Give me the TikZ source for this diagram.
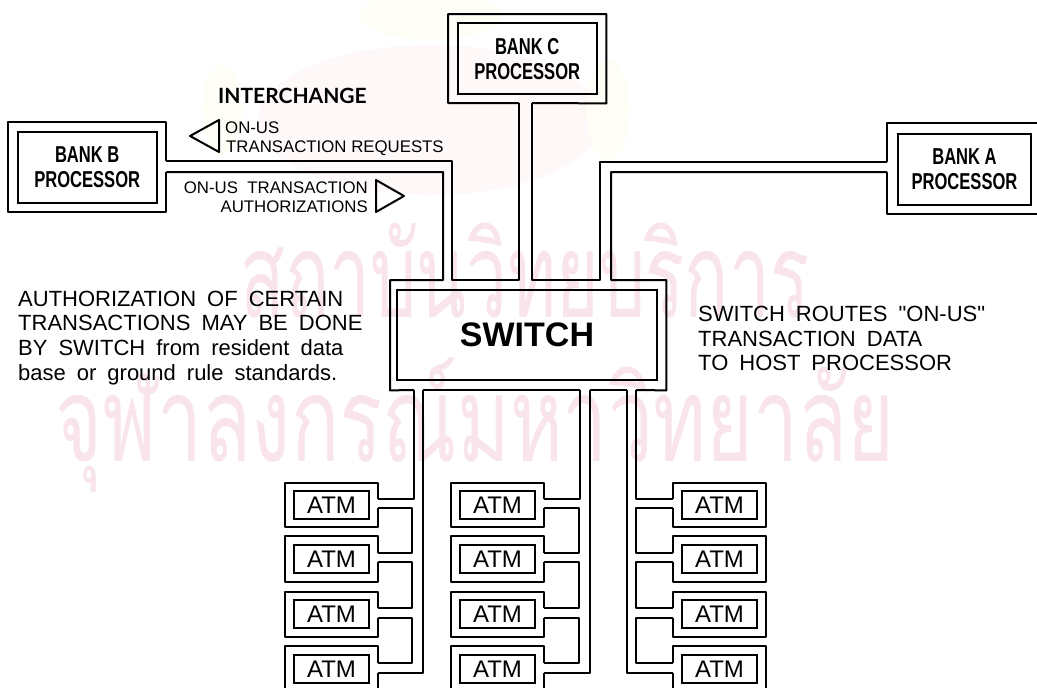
\documentclass[tikz,border=0pt]{standalone}
\usepackage{fontspec}
\setmainfont{Liberation Sans}
\newfontfamily\bankfont[FakeStretch=0.72]{Liberation Sans}
\newfontfamily\notefont[WordSpace=1.8]{Liberation Sans}
\newfontfamily\headfont{Lato}
\newfontfamily\thaifont[Script=Thai]{Loma}
\usetikzlibrary{positioning}
\definecolor{wash}{HTML}{F8E4EA}
\definecolor{blush}{HTML}{FEF8F8}
\definecolor{cream}{HTML}{FEFDF6}
\tikzset{
    wire/.style={line width=2pt,line join=round},
    innerbox/.style={draw,line width=2pt,inner sep=0pt},
    outerbox/.style={inner sep=0pt,anchor=north west},
    bankbox/.style={innerbox,font=\bankfont\bfseries\fontsize{23}{25}\selectfont,align=center},
    atmbox/.style={innerbox,font=\fontsize{24}{24}\selectfont,minimum width=75pt,minimum height=28pt},
    note/.style={inner sep=0pt,anchor=base west,align=left},
    stamp/.style={text=wash,font=\thaifont\fontsize{118}{118}\selectfont,inner sep=0pt}
}
\begin{document}
\begin{tikzpicture}[x=1pt,y=-1pt]
    \useasboundingbox (0,0) rectangle (1037,688);
    \clip (0,0) rectangle (1037,688);
    \fill[white] (0,0) rectangle (1037,688);
    % faint stamp behind the drawing
    \fill[blush] (430,120) ellipse (172pt and 75pt);
    \fill[cream] (222,110) ellipse (20pt and 45pt);
    \fill[cream] (608,110) ellipse (22pt and 50pt);
    \fill[cream] (430,15) ellipse (70pt and 25pt);
    \node[stamp,xscale=0.62] (stampTop) at (525,270) {สถาบันวิทยบริการ};
    \node[stamp,xscale=0.68] (stampLow) at (475,425) {จุฬาลงกรณ์มหาวิทยาลัย};

    % banks
    \node[outerbox,minimum width=158pt,minimum height=90pt] (bankBOut) at (8,122) {};
    \node[outerbox,minimum width=158pt,minimum height=89pt] (bankCOut) at (448,14) {};
    \node[outerbox,minimum width=155pt,minimum height=91pt] (bankAOut) at (887,123) {};
    \node[bankbox,minimum width=139pt,minimum height=71pt] (bankB) at (bankBOut.center) {BANK B\\PROCESSOR};
    \node[bankbox,minimum width=139pt,minimum height=71pt] (bankC) at (bankCOut.center) {BANK C\\PROCESSOR};
    \node[bankbox,minimum width=133pt,minimum height=71pt,anchor=north west] (bankA) at (897,133) {BANK A\\PROCESSOR};

    % switch
    \node[outerbox,minimum width=276pt,minimum height=110pt] (switchOut) at (390,280) {};
    \node[innerbox,minimum width=260pt,minimum height=90pt,font=\bfseries\fontsize{34}{34}\selectfont] (switch) at (527,335) {SWITCH};

    % ends of the trunks on the switch
    \foreach \name/\xpos in {topa/443,topb/452,topc/519,topd/532,tope/600,topf/611} {
        \coordinate (\name) at (\xpos,280);
    }
    \foreach \name/\xpos in {lowa/414,lowb/423,lowc/580,lowd/590,lowe/627,lowf/636} {
        \coordinate (\name) at (\xpos,390);
    }
    \coordinate (bankBhi) at (bankBOut.east |- 0,161);
    \coordinate (bankBlo) at (bankBOut.east |- 0,172);
    \coordinate (bankAhi) at (bankAOut.west |- 0,162);
    \coordinate (bankAlo) at (bankAOut.west |- 0,172);
    \coordinate (bankCle) at (519,103);
    \coordinate (bankCri) at (532,103);

    \draw[wire] (bankBhi) |- (bankBOut.north west) |- (bankBOut.south east) -- (bankBlo);
    \draw[wire] (bankCle) -| (bankCOut.north west) -| (bankCOut.south east) -- (bankCri);
    \draw[wire] (bankAhi) |- (bankAOut.north east) |- (bankAOut.south west) -- (bankAlo);

    \draw[wire] (bankBlo) -| (topa) -- (switchOut.north west) -- (switchOut.south west) -- (lowa);
    \draw[wire] (bankBhi) -| (topb) -- (topc) -- (bankCle);
    \draw[wire] (bankCri) -- (topd) -- (tope) |- (bankAhi);
    \draw[wire] (bankAlo) -| (topf) -- (switchOut.north east) -- (switchOut.south east) -- (lowf);
    \draw[wire] (lowb) -- (lowc);
    \draw[wire] (lowd) -- (lowe);

    % atm columns
    \foreach \col/\xo/\side/\other/\xlink/\stemin/\stemout in {
        L/285/east/west/412/lowa/lowb,
        M/451/east/west/579/lowc/lowd,
        R/673/west/east/636/lowf/lowe} {
        \foreach \row/\ytop/\high/\yhi/\ylo in {
            1/483/44/499/508,
            2/536/46/553/562,
            3/592/45/608/618,
            4/646/70/663/673} {
            \node[outerbox,minimum width=93pt,minimum height=\high pt] (out\col\row) at (\xo,\ytop) {};
            \node[atmbox] (atm\col\row) at (\xo+46.5,\yhi+6) {ATM};
            \coordinate (hi\col\row) at (out\col\row.\side |- 0,\yhi);
            \coordinate (lo\col\row) at (out\col\row.\side |- 0,\ylo);
            \draw[wire] (hi\col\row) |- (out\col\row.north \other) |- (out\col\row.south \side) -- (lo\col\row);
        }
        \draw[wire] (\stemin) |- (hi\col1);
        \foreach \row/\next in {1/2,2/3,3/4} {
            \draw[wire] (lo\col\row) -| (\xlink,0 |- hi\col\next) -- (hi\col\next);
        }
        \draw[wire] (lo\col4) -| (\stemout);
    }

    % interchange labels
    \node[note,font=\headfont\bfseries\fontsize{21}{21}\selectfont] (interchange) at (218,103) {INTERCHANGE};
    \draw[wire] (219,120) -- (190,136) -- (219,152) -- cycle;
    \node[note,font=\fontsize{16.8}{19}\selectfont] (onusReq) at (225,133) {ON-US};
    \node[note,font=\fontsize{16.8}{19}\selectfont] (onusReqB) at (226,152) {TRANSACTION REQUESTS};
    \node[inner sep=0pt,anchor=base east,font=\fontsize{16.8}{19}\selectfont] (onusAuth) at (368,193) {ON-US\ \ TRANSACTION};
    \node[inner sep=0pt,anchor=base east,font=\fontsize{16.8}{19}\selectfont] (onusAuthB) at (368,212) {AUTHORIZATIONS};
    \draw[wire] (376,180) -- (404,196) -- (376,212) -- cycle;

    % notes
    \foreach \name/\ybase/\words in {
        noteA/306/AUTHORIZATION OF CERTAIN,
        noteB/330/TRANSACTIONS MAY BE DONE,
        noteC/355/BY SWITCH from resident data,
        noteD/380/base or ground rule standards.} {
        \node[note,font=\notefont\fontsize{22}{24}\selectfont] (\name) at (18,\ybase) {\words};
    }
    \foreach \name/\ybase/\words in {
        noteE/321/SWITCH ROUTES "ON-US",
        noteF/346/TRANSACTION DATA,
        noteG/370/TO HOST PROCESSOR} {
        \node[note,font=\notefont\fontsize{22}{24}\selectfont] (\name) at (698,\ybase) {\words};
    }
\end{tikzpicture}
\end{document}
